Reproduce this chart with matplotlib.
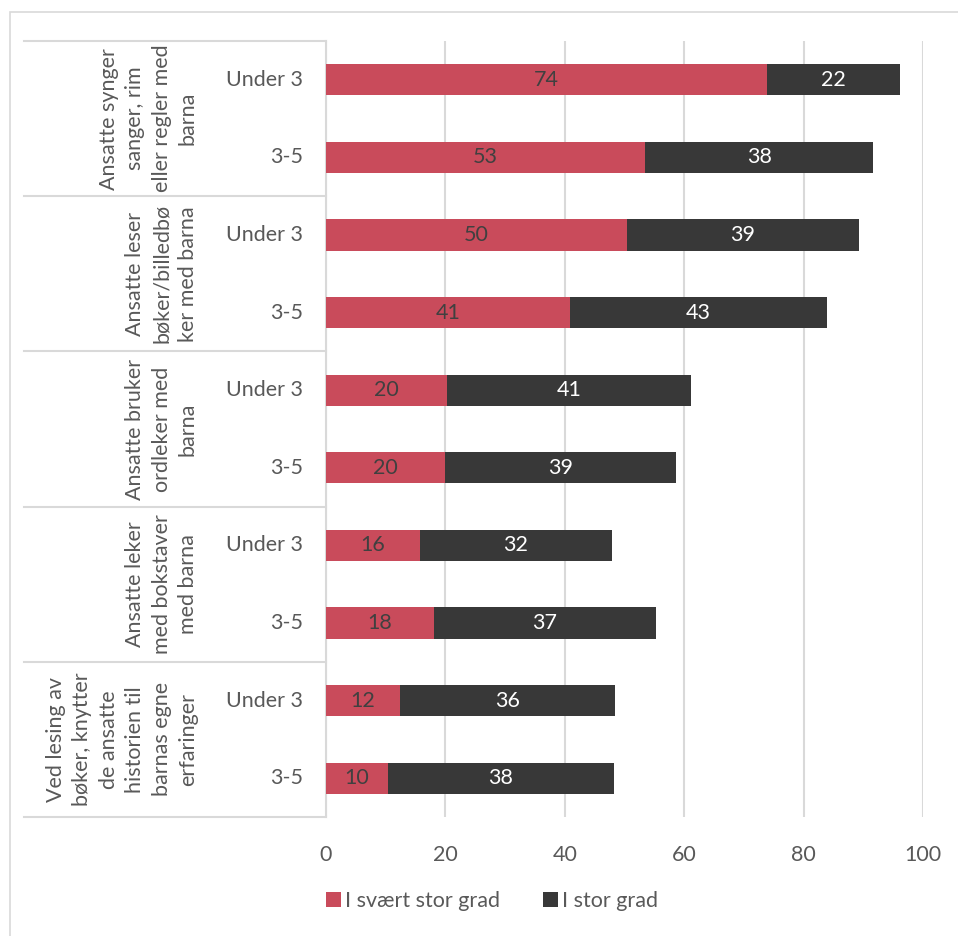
import matplotlib
matplotlib.use("Agg")
import matplotlib.pyplot as plt
import matplotlib.transforms as mtransforms
from matplotlib.patches import Rectangle, Patch
import numpy as np

plt.rcParams['font.family'] = ['Lato', 'DejaVu Sans']

groups = [
    "Ansatte synger\nsanger, rim\neller regler med\nbarna",
    "Ansatte leser\nbøker/billedbø\nker med barna",
    "Ansatte bruker\nordleker med\nbarna",
    "Ansatte leker\nmed bokstaver\nmed barna",
    "Ved lesing av\nbøker, knytter\nde ansatte\nhistorien til\nbarnas egne\nerfaringer",
]
subcats = ["Under 3", "3-5"]
series_names = ["I svært stor grad", "I stor grad"]
very_high = [73.8, 53.4, 50.4, 40.9, 20.3, 19.9, 15.7, 18.1, 12.4, 10.4]
high = [22.3, 38.3, 38.8, 43.0, 40.8, 38.7, 32.2, 37.2, 36.0, 37.8]
xticks = [0, 20, 40, 60, 80, 100]

RED = "#C94B5B"
DARK = "#383838"
TXT = "#595959"
GRID = "#D9D9D9"
FS = 15.5

W, H = 958, 936
fig = plt.figure(figsize=(W / 100, H / 100), dpi=100)
fig.patch.set_facecolor("white")

# outer chart border
fig.patches.append(Rectangle((10 / W, -0.01), 1.02, 1 - 12 / H + 0.01, transform=fig.transFigure,
                             fill=False, edgecolor=GRID, linewidth=1.2))

x0, x1 = 326, 923
ytop, ybot = 41, 817
ax = fig.add_axes([x0 / W, 1 - ybot / H, (x1 - x0) / W, (ybot - ytop) / H])

n = len(very_high)
ypos = np.arange(n)
bh = 0.4
ax.barh(ypos, very_high, height=bh, color=RED, zorder=3)
ax.barh(ypos, high, left=very_high, height=bh, color=DARK, zorder=3)

for i in range(n):
    ax.text(very_high[i] / 2, ypos[i], f"{very_high[i]:.0f}", ha="center", va="center",
            color="#404040", fontsize=FS, zorder=4)
    ax.text(very_high[i] + high[i] / 2, ypos[i], f"{high[i]:.0f}", ha="center", va="center",
            color="white", fontsize=FS, zorder=4)

ax.set_xlim(0, 100)
ax.set_ylim(n - 0.5, -0.5)
ax.set_xticks(xticks)
ax.set_xticklabels([str(t) for t in xticks])
ax.set_yticks([])
ax.xaxis.grid(True, color=GRID, linewidth=1.5, zorder=0)
ax.tick_params(axis="x", length=0, pad=20, labelsize=FS, labelcolor=TXT)
for s in ["top", "right", "bottom"]:
    ax.spines[s].set_visible(False)
ax.spines["left"].set_color(GRID)
ax.spines["left"].set_linewidth(1.5)
ax.set_facecolor("none")

bt = mtransforms.blended_transform_factory(ax.transAxes, ax.transData)
pw = x1 - x0
def ax_x(px):
    return (px - x0) / pw

# subcategory labels
for i in range(n):
    ax.text(ax_x(303), ypos[i], subcats[i % 2], transform=bt, ha="right", va="center",
            fontsize=FS, color=TXT, clip_on=False)

# group labels and separators
for g, label in enumerate(groups):
    yc = 2 * g + 0.5
    ax.text(ax_x(198), yc, label, transform=bt, ha="right", va="center", rotation=90,
            multialignment="center", fontsize=FS, color=TXT, linespacing=1.4, clip_on=False)
for b in range(len(groups) + 1):
    yb = 2 * b - 0.5
    ax.plot([ax_x(24), 0], [yb, yb], transform=bt, color=GRID, linewidth=1.5,
            clip_on=False, zorder=1)

handles = [Patch(facecolor=RED, edgecolor="none"), Patch(facecolor=DARK, edgecolor="none")]
leg = fig.legend(handles, series_names, loc="center", bbox_to_anchor=(492 / W, 1 - 901 / H),
                 ncol=2, frameon=False, fontsize=FS, handlelength=0.7, handleheight=0.7,
                 handletextpad=0.2, columnspacing=2.0, labelcolor=TXT)

fig.savefig("out.png", dpi=100, facecolor="white")
